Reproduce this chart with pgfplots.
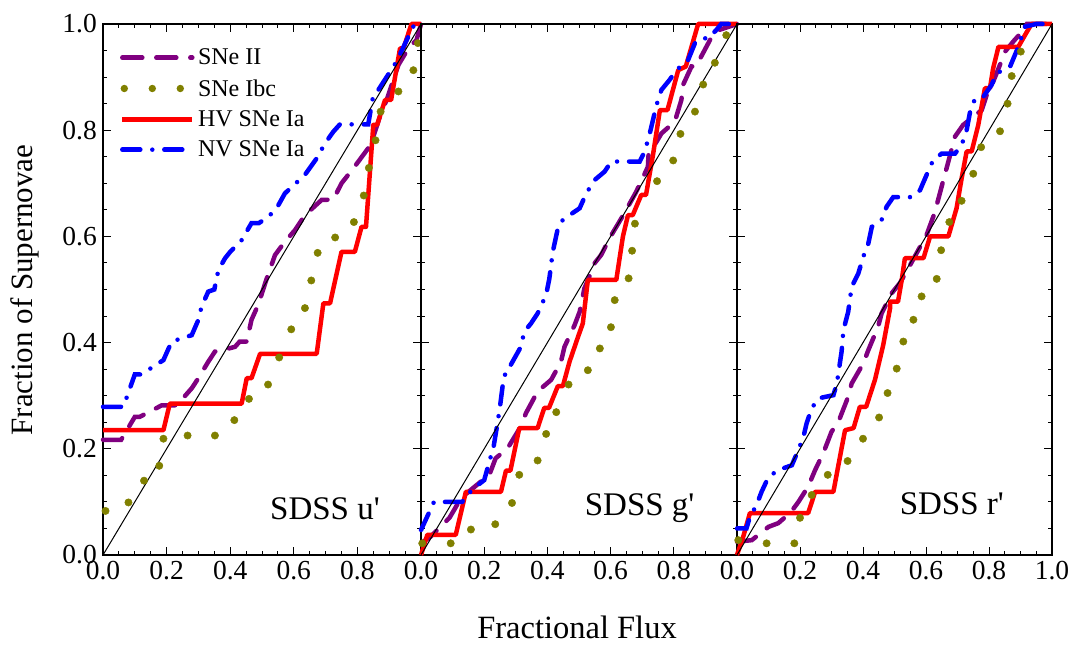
\documentclass[border=0pt]{standalone}
\usepackage{fontspec}
\setmainfont{Liberation Serif}
\usepackage{pgfplots}
\pgfplotsset{compat=1.18}
\definecolor{snii}{RGB}{128,0,128}
\definecolor{snibc}{RGB}{128,128,0}
\tikzset{
 siiline/.style={snii, line width=4.5pt, line cap=round, dash pattern=on 20pt off 14pt},
 hvline/.style={red, line width=4.5pt, line join=round},
 nvline/.style={blue, line width=4.5pt, line cap=round, dash pattern=on 18pt off 12pt on 0pt off 12pt},
}
\pgfplotsset{
 panel/.style={
  scale only axis, width=316pt, height=531pt, anchor=south west,
  xmin=0,xmax=1,ymin=0,ymax=1,
  xtick={0,0.2,0.4,0.6,0.8,1}, ytick={0,0.2,0.4,0.6,0.8,1},
  minor x tick num=3, minor y tick num=3,
  tick align=inside, major tick length=8pt, minor tick length=4pt,
  every tick/.style={black, line width=0.9pt},
  axis line style={line width=1.2pt},
  tick label style={font=\fontsize{27.5}{27.5}\selectfont, inner sep=6pt},
  clip=false,
  yticklabels={},
 },
 sii/.style={siiline, legend image code/.code={\draw[siiline] (0pt,0pt) -- (70pt,0pt);}},
 sibc/.style={snibc, only marks, mark=*, mark size=3.7pt, mark options={draw=snibc, fill=snibc},
   legend image code/.code={\draw[snibc, line width=7.4pt, line cap=round, dash pattern=on 0pt off 28pt] (2pt,0pt) -- (70pt,0pt);}},
 hv/.style={hvline, legend image code/.code={\draw[hvline] (0pt,0pt) -- (70pt,0pt);}},
 nv/.style={nvline, legend image code/.code={\draw[nvline] (0pt,0pt) -- (70pt,0pt);}},
 diag/.style={black, line width=1pt},
}
\begin{document}
\begin{tikzpicture}
\path[use as bounding box] (0pt,0pt) rectangle (1073pt,646pt);
% ---------------- Panel 1: u'
\begin{axis}[panel, at={(103pt,91pt)}, width=318pt,
  xticklabels={0.0,0.2,0.4,0.6,0.8,{}},
  yticklabels={0.0,0.2,0.4,0.6,0.8,1.0},
  legend style={at={(0.053,0.957)}, anchor=north west, draw=none, fill=none, inner sep=0pt,
    font=\fontsize{24}{24}\selectfont, row sep=9pt, nodes={inner sep=2pt}},
  legend cell align=left]
\addplot[sii] coordinates {(0,0.217) (0.057,0.217) (0.1,0.26) (0.115,0.26) (0.185,0.282) (0.232,0.282) (0.279,0.314) (0.3,0.333) (0.331,0.364) (0.352,0.383) (0.37,0.385) (0.415,0.392) (0.43,0.402) (0.452,0.402) (0.467,0.443) (0.488,0.471) (0.515,0.521) (0.541,0.565) (0.572,0.59) (0.604,0.612) (0.635,0.64) (0.688,0.669) (0.724,0.669) (0.75,0.7) (0.787,0.728) (0.834,0.766) (0.85,0.788) (0.876,0.835) (0.892,0.857) (0.929,0.923) (0.96,0.954) (0.986,0.97) (1,1)};
\addplot[sibc] coordinates {(0.008,0.083) (0.08,0.099) (0.129,0.14) (0.177,0.168) (0.19,0.219) (0.266,0.225) (0.352,0.225) (0.413,0.254) (0.459,0.294) (0.519,0.321) (0.554,0.372) (0.592,0.425) (0.635,0.465) (0.655,0.517) (0.675,0.569) (0.73,0.598) (0.789,0.627) (0.82,0.677) (0.836,0.729) (0.857,0.781) (0.873,0.835) (0.929,0.873) (0.976,0.913) (0.99,0.964)};
\addplot[hv] coordinates {(0,0.235) (0.19,0.235) (0.21,0.285) (0.436,0.285) (0.452,0.333) (0.467,0.333) (0.494,0.379) (0.672,0.379) (0.693,0.474) (0.714,0.474) (0.75,0.571) (0.792,0.571) (0.813,0.618) (0.827,0.618) (0.85,0.81) (0.862,0.81) (0.887,0.857) (0.906,0.857) (0.934,0.954) (0.945,0.954) (0.97,1.0) (1.0,1.0)};
\addplot[nv] coordinates {(0,0.279) (0.064,0.279) (0.1,0.34) (0.12,0.34) (0.19,0.367) (0.216,0.402) (0.279,0.414) (0.3,0.443) (0.31,0.468) (0.331,0.496) (0.35,0.5) (0.363,0.537) (0.384,0.559) (0.4,0.571) (0.436,0.593) (0.467,0.625) (0.49,0.625) (0.52,0.637) (0.546,0.653) (0.572,0.681) (0.635,0.716) (0.672,0.747) (0.698,0.775) (0.724,0.797) (0.745,0.811) (0.834,0.811) (0.85,0.866) (0.866,0.876) (0.923,0.929) (0.96,0.976) (0.98,1.0) (1,1)};
\legend{SNe II, SNe Ibc, HV SNe Ia, NV SNe Ia}
\addplot[diag] coordinates {(0,0) (1,1)};
\node[font=\fontsize{33}{33}\selectfont] at (axis cs:0.698,0.088) {SDSS u\textquotesingle};
\end{axis}
% ---------------- Panel 2: g'
\begin{axis}[panel, at={(421pt,91pt)},
  xticklabels={0.0,0.2,0.4,0.6,0.8,{}}]
\addplot[sii] coordinates {(0,0.022) (0.031,0.035) (0.09,0.07) (0.105,0.085) (0.126,0.107) (0.189,0.138) (0.21,0.141) (0.236,0.182) (0.274,0.201) (0.316,0.242) (0.332,0.267) (0.369,0.308) (0.412,0.33) (0.443,0.364) (0.454,0.392) (0.486,0.433) (0.502,0.458) (0.517,0.502) (0.53,0.52) (0.55,0.55) (0.57,0.565) (0.6,0.6) (0.64,0.64) (0.681,0.684) (0.718,0.731) (0.72,0.753) (0.761,0.794) (0.803,0.816) (0.824,0.857) (0.829,0.885) (0.856,0.92) (0.87,0.92) (0.92,0.976) (0.945,0.989) (1,1)};
\addplot[sibc] coordinates {(0.004,0.022) (0.094,0.022) (0.158,0.048) (0.235,0.058) (0.288,0.098) (0.311,0.151) (0.369,0.178) (0.396,0.228) (0.428,0.269) (0.467,0.321) (0.528,0.348) (0.566,0.389) (0.601,0.429) (0.613,0.48) (0.657,0.521) (0.668,0.573) (0.677,0.624) (0.747,0.704) (0.798,0.743) (0.821,0.793) (0.867,0.835) (0.893,0.886) (0.93,0.927) (0.966,0.979)};
\addplot[hv] coordinates {(0,0) (0.02,0.038) (0.11,0.038) (0.142,0.119) (0.253,0.119) (0.269,0.159) (0.283,0.159) (0.311,0.239) (0.369,0.239) (0.39,0.277) (0.405,0.277) (0.433,0.318) (0.449,0.318) (0.47,0.364) (0.497,0.411) (0.512,0.436) (0.528,0.518) (0.618,0.518) (0.639,0.6) (0.655,0.64) (0.67,0.64) (0.697,0.678) (0.712,0.678) (0.734,0.753) (0.756,0.838) (0.78,0.838) (0.814,0.913) (0.838,0.92) (0.877,1.0) (1,1)};
\addplot[nv] coordinates {(0,0.047) (0.041,0.1) (0.13,0.1) (0.163,0.124) (0.2,0.141) (0.23,0.205) (0.242,0.248) (0.251,0.284) (0.258,0.317) (0.269,0.348) (0.284,0.358) (0.316,0.392) (0.327,0.421) (0.348,0.436) (0.369,0.455) (0.396,0.49) (0.406,0.52) (0.417,0.571) (0.433,0.615) (0.443,0.628) (0.47,0.64) (0.502,0.653) (0.523,0.681) (0.549,0.706) (0.581,0.722) (0.602,0.741) (0.692,0.741) (0.708,0.76) (0.724,0.794) (0.734,0.819) (0.745,0.847) (0.761,0.876) (0.787,0.895) (0.808,0.913) (0.845,0.932) (0.867,0.964) (0.888,0.973) (0.909,0.973) (0.935,0.989) (0.95,1.0) (1,1)};
\addplot[diag] coordinates {(0,0) (1,1)};
\node[font=\fontsize{33}{33}\selectfont] at (axis cs:0.692,0.088) {SDSS g\textquotesingle};
\end{axis}
% ---------------- Panel 3: r'
\begin{axis}[panel, at={(737pt,91pt)}, width=315pt,
  xticklabels={0.0,0.2,0.4,0.6,0.8,1.0}]
\addplot[sii] coordinates {(0,0.025) (0.047,0.028) (0.1,0.053) (0.131,0.06) (0.17,0.08) (0.195,0.1) (0.226,0.129) (0.248,0.16) (0.274,0.192) (0.3,0.232) (0.322,0.251) (0.353,0.298) (0.364,0.323) (0.401,0.361) (0.417,0.386) (0.448,0.43) (0.459,0.455) (0.491,0.493) (0.517,0.512) (0.544,0.54) (0.602,0.603) (0.623,0.637) (0.634,0.659) (0.671,0.741) (0.692,0.788) (0.718,0.81) (0.777,0.838) (0.798,0.876) (0.813,0.891) (0.83,0.916) (0.851,0.948) (0.877,0.967) (0.904,0.985) (0.92,1.0) (1,1)};
\addplot[sibc] coordinates {(0.004,0.028) (0.094,0.022) (0.182,0.022) (0.2,0.07) (0.237,0.113) (0.288,0.151) (0.351,0.177) (0.4,0.219) (0.451,0.259) (0.478,0.305) (0.507,0.351) (0.528,0.402) (0.56,0.443) (0.586,0.487) (0.634,0.52) (0.648,0.574) (0.674,0.627) (0.713,0.667) (0.75,0.718) (0.775,0.768) (0.835,0.798) (0.859,0.85) (0.872,0.902) (0.901,0.948)};
\addplot[hv] coordinates {(0,0) (0.02,0.035) (0.041,0.079) (0.226,0.079) (0.248,0.119) (0.306,0.119) (0.332,0.201) (0.343,0.235) (0.37,0.239) (0.39,0.279) (0.41,0.279) (0.438,0.33) (0.464,0.395) (0.486,0.465) (0.486,0.477) (0.511,0.477) (0.523,0.518) (0.533,0.559) (0.592,0.559) (0.613,0.6) (0.671,0.6) (0.697,0.653) (0.713,0.709) (0.729,0.76) (0.745,0.76) (0.766,0.81) (0.787,0.879) (0.803,0.879) (0.813,0.916) (0.83,0.957) (0.893,0.957) (0.92,0.985) (0.935,1.0) (1,1)};
\addplot[nv] coordinates {(0,0.05) (0.03,0.05) (0.041,0.072) (0.062,0.094) (0.078,0.119) (0.1,0.147) (0.131,0.16) (0.174,0.169) (0.195,0.198) (0.211,0.223) (0.221,0.248) (0.237,0.276) (0.258,0.295) (0.306,0.301) (0.317,0.323) (0.332,0.383) (0.338,0.424) (0.353,0.458) (0.364,0.505) (0.385,0.53) (0.401,0.562) (0.417,0.587) (0.428,0.618) (0.459,0.631) (0.475,0.656) (0.496,0.674) (0.555,0.674) (0.581,0.687) (0.602,0.716) (0.623,0.744) (0.65,0.756) (0.692,0.756) (0.713,0.772) (0.729,0.8) (0.74,0.835) (0.756,0.86) (0.782,0.863) (0.808,0.885) (0.824,0.907) (0.867,0.92) (0.893,0.957) (0.914,0.995) (0.95,1) (1,1)};
\addplot[diag] coordinates {(0,0) (1,1)};
\node[font=\fontsize{33}{33}\selectfont] at (axis cs:0.682,0.096) {SDSS r\textquotesingle};
\end{axis}
\node[font=\fontsize{31}{31}\selectfont, rotate=90] at (25pt,356pt) {Fraction of Supernovae};
\node[font=\fontsize{32.5}{32.5}\selectfont] at (577pt,19pt) {Fractional Flux};
\end{tikzpicture}
\end{document}
